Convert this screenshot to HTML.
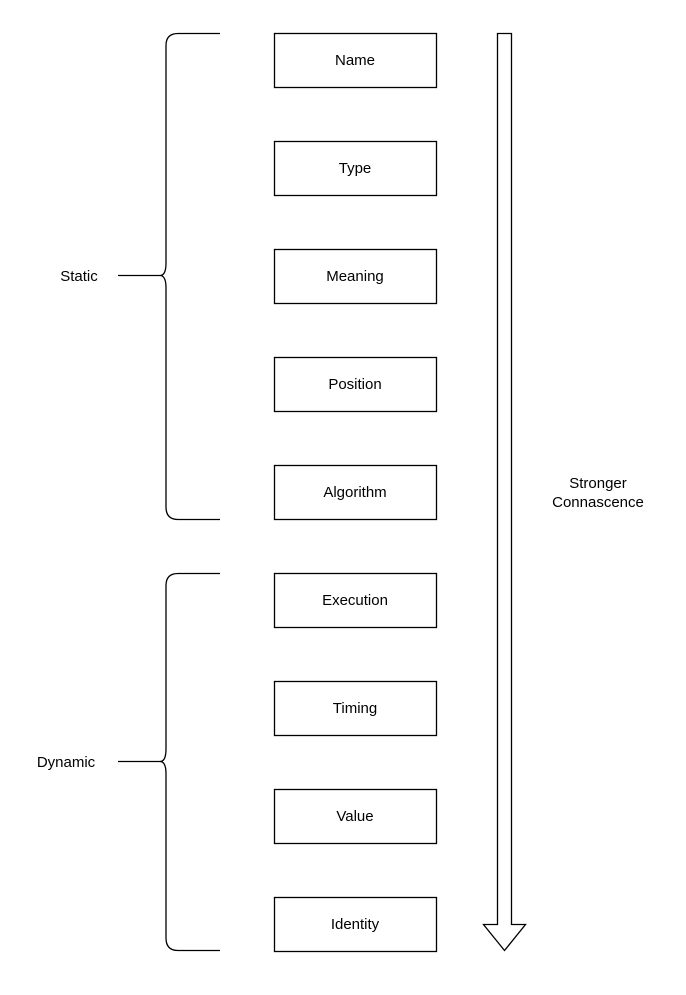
<!DOCTYPE html>
<html><head><style>body{margin:0;background:#fff}</style></head><body>
<svg width="686" height="990" xmlns="http://www.w3.org/2000/svg" font-family="Liberation Sans, sans-serif" font-size="15">
<rect width="686" height="990" fill="#fff"/>
<g fill="#fff" stroke="#000" stroke-width="1.3">
<rect x="274.5" y="33.5" width="162" height="54"/>
<rect x="274.5" y="141.5" width="162" height="54"/>
<rect x="274.5" y="249.5" width="162" height="54"/>
<rect x="274.5" y="357.5" width="162" height="54"/>
<rect x="274.5" y="465.5" width="162" height="54"/>
<rect x="274.5" y="573.5" width="162" height="54"/>
<rect x="274.5" y="681.5" width="162" height="54"/>
<rect x="274.5" y="789.5" width="162" height="54"/>
<rect x="274.5" y="897.5" width="162" height="54"/>
<path d="M497.5 33.5 H511.5 V924.5 H525.5 L504.5 950.5 L483.5 924.5 H497.5 Z"/>
</g>
<g fill="none" stroke="#000" stroke-width="1.3">
<path d="M220 33.5 H178 Q166 33.5 166 45.5 V263 Q166 275.5 160 275.5 H118 M160 275.5 Q166 275.5 166 288 V507 Q166 519.5 178 519.5 H220"/>
<path d="M220 573.5 H178 Q166 573.5 166 585.5 V749 Q166 761.5 160 761.5 H118 M160 761.5 Q166 761.5 166 774 V938 Q166 950.5 178 950.5 H220"/>
</g>
<g text-anchor="middle" fill="#000">
<text x="355" y="65">Name</text>
<text x="355" y="173">Type</text>
<text x="355" y="281">Meaning</text>
<text x="355" y="389">Position</text>
<text x="355" y="497">Algorithm</text>
<text x="355" y="605">Execution</text>
<text x="355" y="713">Timing</text>
<text x="355" y="821">Value</text>
<text x="355" y="929">Identity</text>
<text x="79" y="281">Static</text>
<text x="66" y="767">Dynamic</text>
<text x="598" y="488">Stronger</text>
<text x="598" y="507">Connascence</text>
</g>
</svg>
</body></html>
